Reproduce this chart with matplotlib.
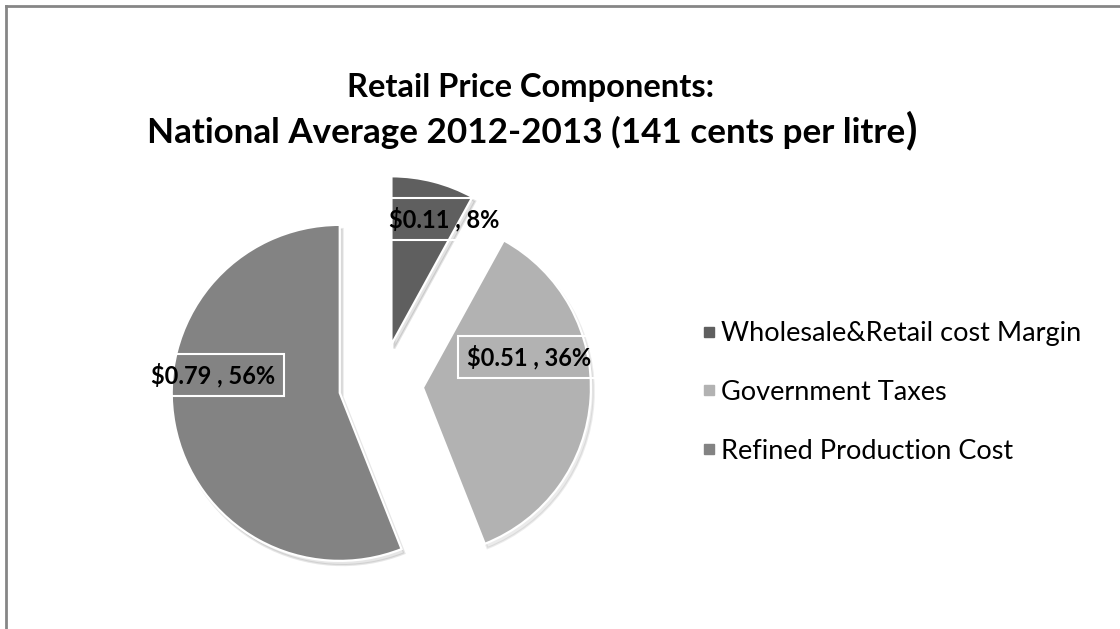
import matplotlib
matplotlib.use('Agg')
import numpy as np
import matplotlib.pyplot as plt
from matplotlib.lines import Line2D

TITLE_LINE1 = 'Retail Price Components:'
TITLE_LINE2 = 'National Average 2012-2013 (141 cents per litre'
CATEGORIES = ['Wholesale&Retail cost Margin', 'Government Taxes', 'Refined Production Cost']
PRICES = [0.11, 0.51, 0.79]
SHARES = [8, 36, 56]
COLORS = ['#5f5f5f', '#b2b2b2', '#838383']

# label placement relative to each exploded wedge (angle in degrees, distance as fraction of radius)
LABEL_ANGLE = [67, 16, 172]
LABEL_DIST = [0.81, 0.66, 0.76]

W, H = 1120, 629
CENTER = (381, H - 385)
RADIUS = 168
EXPLODE = 42
FONT = ['Lato', 'DejaVu Sans']

plt.rcParams['font.family'] = FONT

fig = plt.figure(figsize=(W / 100, H / 100), dpi=100)
ax = fig.add_axes([0, 0, 1, 1])

wedges, _ = ax.pie(
    SHARES,
    colors=COLORS,
    startangle=90,
    counterclock=False,
    center=CENTER,
    radius=RADIUS,
    explode=[EXPLODE] * len(SHARES),
    shadow={'ox': 2, 'oy': -3, 'shade': 0.3, 'alpha': 0.15},
    wedgeprops=dict(edgecolor='white', linewidth=1.6),
)
ax.set_xlim(0, W)
ax.set_ylim(0, H)
ax.set_aspect('equal')
ax.axis('off')

for w, price, share, ang, dist in zip(wedges, PRICES, SHARES, LABEL_ANGLE, LABEL_DIST):
    cx, cy = w.center
    tx = cx + RADIUS * dist * np.cos(np.radians(ang))
    ty = cy + RADIUS * dist * np.sin(np.radians(ang))
    ax.text(tx, ty, f'${price:.2f} , {share}%', ha='center', va='center',
            fontsize=17, fontweight='bold', color='black',
            bbox=dict(boxstyle='square,pad=0.38', fc='none', ec='white', lw=1.5))

# title
fig.text(531 / W, 1 - 88 / H, TITLE_LINE1, ha='center', va='center',
         fontsize=23.5, fontweight='bold')
t2 = fig.text(526 / W, 1 - 132 / H, TITLE_LINE2, ha='center', va='center',
              fontsize=25.2, fontweight='bold')
fig.canvas.draw()
bb = t2.get_window_extent()
fig.text(bb.x1 / W + 0.001, 1 - 130 / H, ')', ha='left', va='center',
         fontsize=30, fontweight='bold')

# legend
handles = [Line2D([], [], marker='s', linestyle='none', markersize=7.5,
                  markerfacecolor=c, markeredgecolor=c) for c in COLORS]
fig.legend(handles, CATEGORIES, loc='upper left', bbox_to_anchor=(702 / W, 1 - 321 / H),
           frameon=False, fontsize=19.5, handlelength=0.55, handletextpad=0.15,
           labelspacing=1.25, borderaxespad=0, borderpad=0)

# outer chart border (top and left visible)
fig.add_artist(Line2D([6 / W, 6 / W], [0, 1 - 6 / H], transform=fig.transFigure,
                      color='#868686', lw=2))
fig.add_artist(Line2D([6 / W, 1], [1 - 6 / H, 1 - 6 / H], transform=fig.transFigure,
                      color='#868686', lw=2))

fig.savefig('out.png', dpi=100, facecolor='white')
